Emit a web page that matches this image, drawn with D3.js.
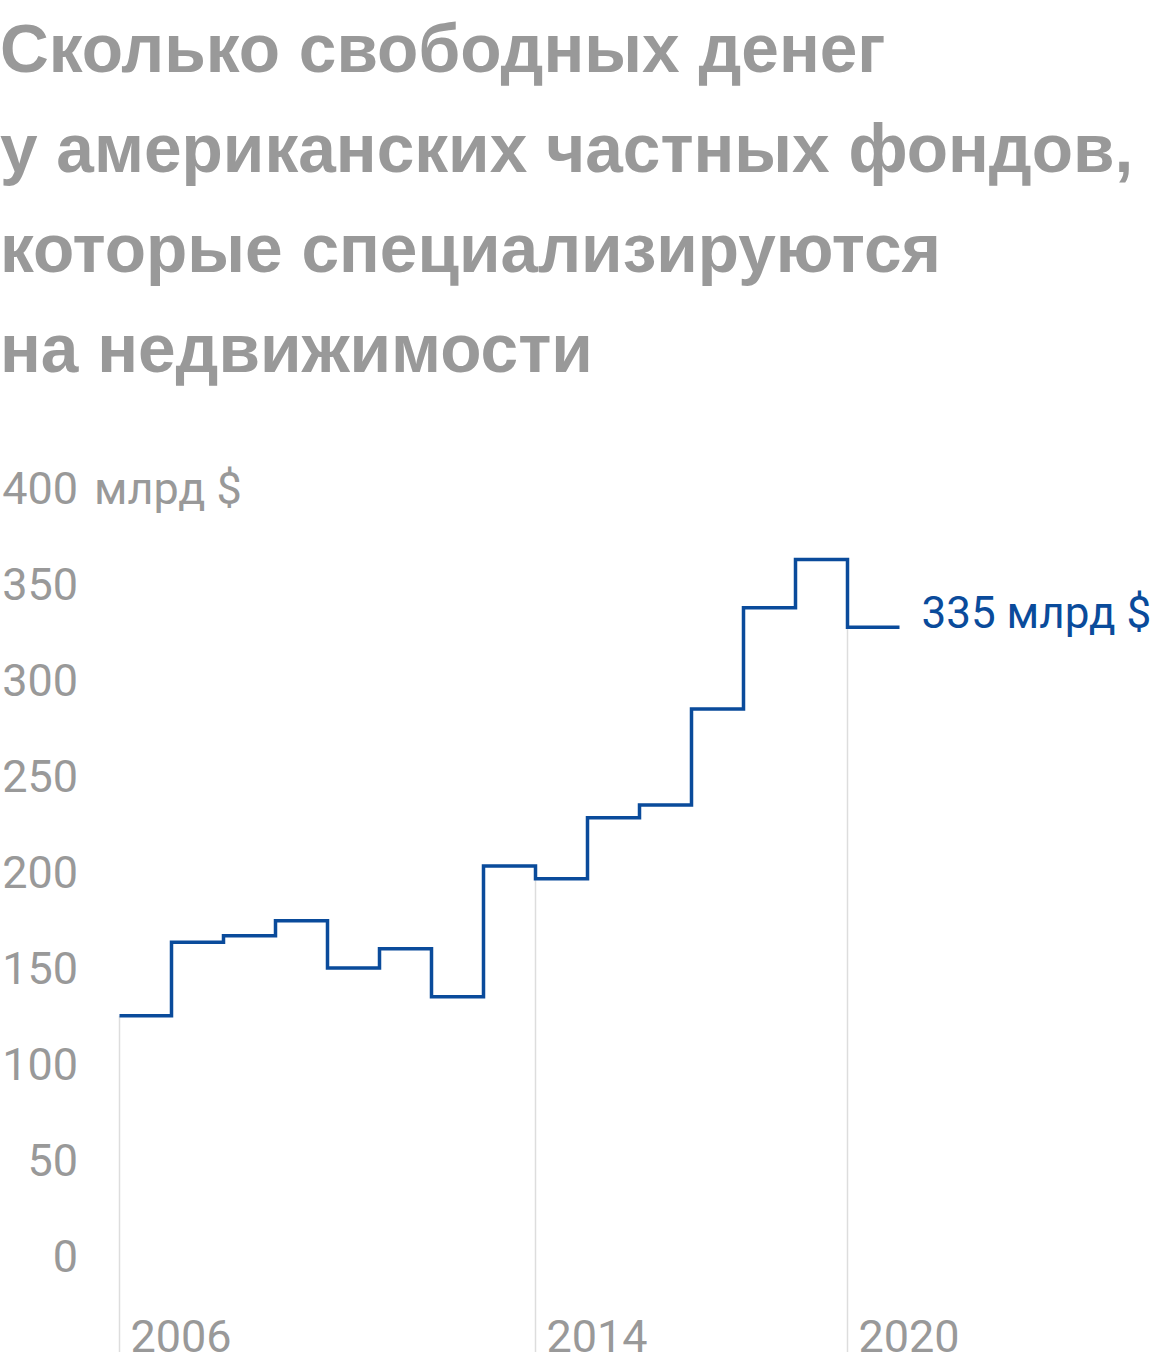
<!DOCTYPE html>
<html>
<head>
<meta charset="utf-8">
<script src="https://cdn.jsdelivr.net/npm/d3@7"></script>
<style>
  html, body { margin: 0; padding: 0; background: #fff; }
  svg { display: block; }
</style>
</head>
<body>
<svg id="chart" width="1160" height="1368"></svg>
<script>
// ---- data ----
const titleLines = [
  "Сколько свободных денег",
  "у американских частных фондов,",
  "которые специализируются",
  "на недвижимости"
];
const years = [2006, 2007, 2008, 2009, 2010, 2011, 2012, 2013, 2014, 2015, 2016, 2017, 2018, 2019, 2020];
const values = [132.5, 170.8, 174.2, 182.0, 157.4, 167.4, 142.4, 210.5, 203.9, 235.7, 242.3, 292.3, 345.1, 370.3, 335];
const yTicks = [0, 50, 100, 150, 200, 250, 300, 350, 400];
const yUnit = "млрд $";
const xTickYears = [2006, 2014, 2020];
const endLabel = "335 млрд $";

// ---- layout ----
const svg = d3.select("#chart");
const grey = "#999999";
const blue = "#0a4b9b";

svg.append("text")
  .attr("font-family", "'Liberation Sans', Arial, sans-serif")
  .attr("font-weight", "bold")
  .attr("font-size", 67.6)
  .attr("fill", grey)
  .selectAll("tspan")
  .data(titleLines)
  .join("tspan")
  .attr("x", 0)
  .attr("y", (d, i) => 72 + i * 100)
  .text(d => d);

const x = d3.scaleLinear().domain([2006, 2021]).range([119.5, 899.5]);
const y = d3.scaleLinear().domain([0, 400]).range([1270, 502.4]);
const bottom = 1352;

const data = years.map((yr, i) => ({ year: yr, value: values[i] }));
const stepData = data.concat([{ year: years[years.length - 1] + 1, value: values[values.length - 1] }]);

// gridlines from value down to bottom
svg.append("g")
  .selectAll("line")
  .data(data.filter(d => xTickYears.includes(d.year)))
  .join("line")
  .attr("x1", d => x(d.year))
  .attr("x2", d => x(d.year))
  .attr("y1", d => y(d.value))
  .attr("y2", bottom)
  .attr("stroke", "#dddddd")
  .attr("stroke-width", 1.5);

// y labels
const yl = svg.append("g")
  .attr("font-family", "Roboto, sans-serif")
  .attr("font-size", 45)
  .attr("fill", grey);
yl.selectAll("text")
  .data(yTicks)
  .join("text")
  .attr("x", 78)
  .attr("y", d => y(d) + 2)
  .attr("text-anchor", "end")
  .text(d => d);
yl.append("text")
  .attr("x", 94)
  .attr("y", y(yTicks[yTicks.length - 1]) + 2)
  .text(yUnit);

// x labels
svg.append("g")
  .attr("font-family", "Roboto, sans-serif")
  .attr("font-size", 45)
  .attr("fill", grey)
  .selectAll("text")
  .data(xTickYears)
  .join("text")
  .attr("x", d => x(d) + 11)
  .attr("y", bottom)
  .text(d => d);

// step line
const line = d3.line()
  .x(d => x(d.year))
  .y(d => y(d.value))
  .curve(d3.curveStepAfter);
svg.append("path")
  .datum(stepData)
  .attr("d", line)
  .attr("fill", "none")
  .attr("stroke", blue)
  .attr("stroke-width", 3.5);

// end label
svg.append("text")
  .attr("x", x(stepData[stepData.length - 1].year) + 22)
  .attr("y", y(values[values.length - 1]) + 0.5)
  .attr("font-family", "Roboto, sans-serif")
  .attr("font-size", 44)
  .attr("fill", blue)
  .text(endLabel);
</script>
</body>
</html>
